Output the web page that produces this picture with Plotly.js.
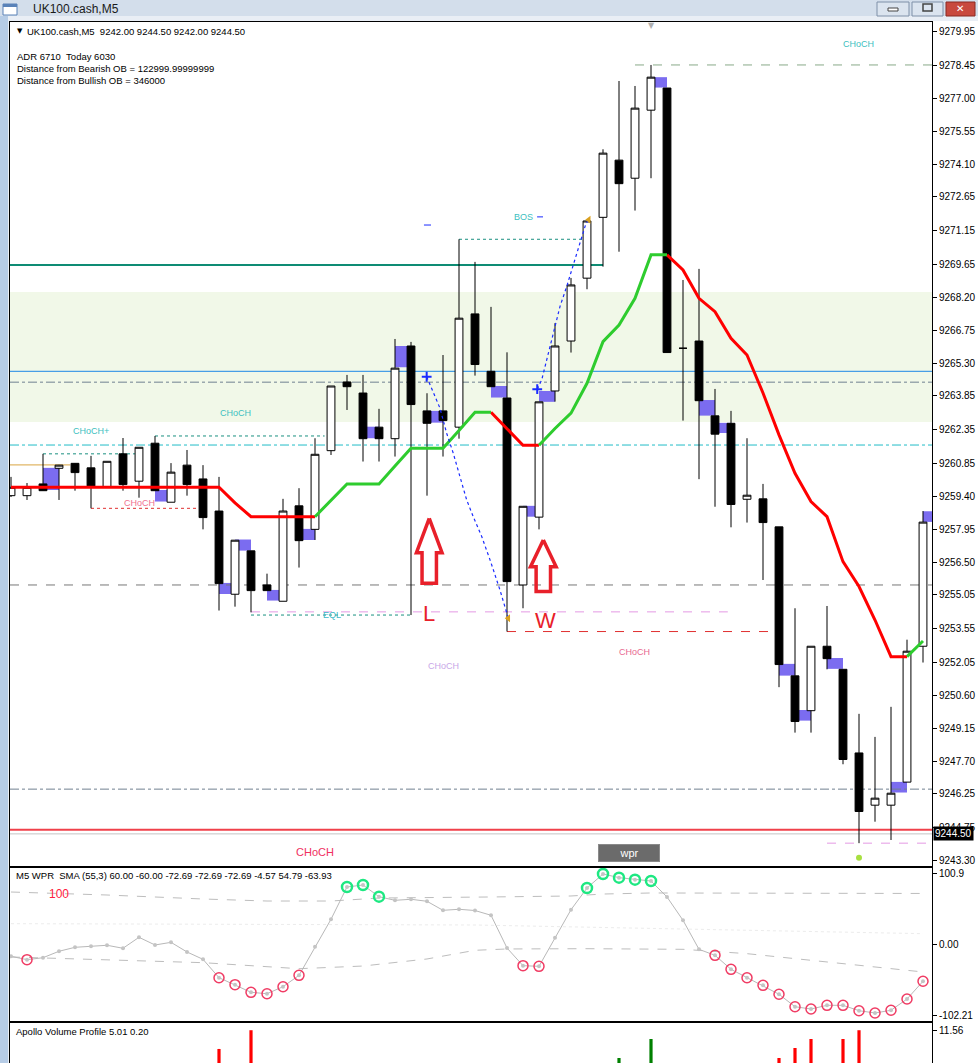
<!DOCTYPE html>
<html><head><meta charset="utf-8">
<script src="https://cdn.plot.ly/plotly-3.0.1.min.js"></script>
<style>html,body{margin:0;padding:0;background:#fff}#chart{width:978px;height:1063px}</style>
</head><body><div id="chart"></div>
<script>
// ---------------- DATA ----------------
const open  = [9259.44,9259.44,9259.96,9260.65,9260.87,9260.67,9259.81,9261.29,9260.08,9261.76,
               9259.15,9260.79,9260.18,9258.76,9255.08,9257.00,9255.49,9254.77,9258.99,9257.95,
               9261.43,9264.47,9263.98,9262.47,9261.96,9266.06,9263.19,9263.19,9262.47,9267.48,
               9264.94,9263.76,9255.49,9258.49,9264.07,9266.28,9269.06,9271.75,9274.28,9273.48,
               9276.49,9277.47,9265.96,9266.28,9262.97,9262.64,9259.28,9259.30,9258.06,9251.47,
               9249.93,9252.78,9251.76,9248.06,9245.75,9245.75,9246.77,9252.78];
const high  = [9260.27,9260.00,9261.29,9260.80,9260.88,9261.20,9260.96,9261.99,9261.58,9262.08,
               9260.88,9261.46,9260.79,9260.27,9257.47,9257.00,9255.99,9259.30,9259.77,9261.98,
               9264.29,9264.78,9264.78,9263.28,9266.37,9266.24,9263.97,9265.66,9270.78,9269.78,
               9267.79,9265.78,9258.97,9263.59,9267.07,9269.07,9271.59,9274.76,9277.78,9277.56,
               9278.49,9277.47,9268.98,9269.47,9264.16,9263.19,9261.98,9259.96,9258.06,9254.46,
               9252.78,9254.56,9251.76,9249.79,9248.77,9250.10,9253.07,9258.76];
const low   = [9259.38,9259.25,9259.65,9259.25,9259.66,9258.88,9259.81,9259.66,9259.35,9259.66,
               9259.15,9259.44,9257.95,9254.36,9254.53,9254.28,9255.24,9254.77,9256.26,9257.48,
               9261.24,9263.23,9260.95,9260.95,9261.17,9254.16,9259.44,9261.17,9261.96,9264.75,
               9264.26,9253.43,9254.46,9257.95,9263.60,9265.77,9268.57,9269.57,9270.23,9272.05,
               9273.48,9265.77,9262.76,9260.17,9258.95,9258.04,9258.25,9255.71,9250.97,9248.96,
               9248.96,9251.76,9247.56,9244.07,9245.02,9244.21,9246.77,9252.06];
const close = [9259.81,9259.81,9259.66,9260.79,9260.46,9259.87,9260.96,9259.93,9261.58,9259.66,
               9260.48,9259.93,9258.47,9255.55,9257.47,9255.24,9255.24,9258.76,9257.45,9261.27,
               9264.29,9264.26,9261.96,9261.96,9265.08,9263.47,9262.64,9262.76,9267.29,9265.24,
               9264.26,9255.64,9258.97,9263.59,9266.06,9268.76,9271.59,9274.59,9273.24,9276.58,
               9277.95,9265.77,9265.96,9263.64,9262.16,9259.05,9259.46,9258.25,9251.97,9249.45,
               9252.78,9252.23,9247.77,9245.47,9246.06,9246.28,9252.56,9258.27];

// trend (step MA) line and its colour runs
const trend = [9259.81,9259.81,9259.81,9259.81,9259.81,9259.81,9259.81,9259.81,9259.81,9259.81,
               9259.81,9259.81,9259.81,9259.81,9259.12,9258.51,9258.51,9258.51,9258.51,9258.51,
               9259.25,9259.96,9259.96,9259.96,9260.75,9261.54,9261.54,9261.54,9262.32,9263.13,
               9263.13,9262.40,9261.67,9261.67,9262.41,9263.09,9264.41,9266.25,9266.99,9268.17,
               9270.09,9270.09,9269.42,9268.17,9267.58,9266.40,9265.66,9263.98,9262.13,9260.43,
               9259.18,9258.51,9256.52,9255.42,9253.94,9252.32,9252.32,9253.01];
const trendUp = [[19,30],[33,41],[56,57]];
const trendDown = [[0,19],[30,33],[41,56]];

// WPR sub-window
const wpr = [-16.9,-21.7,-18.9,-9.7,-4.0,-2.6,-1.1,-5.4,10.3,-0.7,
             3.1,-10.7,-21.2,-47.5,-57.5,-68.4,-70.4,-60.4,-44.1,-3.1,
             36.1,82.3,85.1,68.4,63.2,64.7,61.8,48.9,50.4,48.6,
             41.8,-5.0,-30.3,-31.2,9.7,49.8,80.8,100.9,95.6,92.7,
             90.8,68.0,34.6,-6.9,-15.5,-35.5,-47.5,-58.4,-71.2,-89.0,
             -92.3,-87.0,-87.0,-94.7,-98.0,-94.1,-78.0,-52.6];
const wprSignal = [0,-1,0,0,0,0,0,0,0,0,
                   0,0,0,-1,-1,-1,-1,-1,-1,0,
                   0,1,1,1,0,0,0,0,0,0,
                   0,0,-1,-1,0,0,1,1,1,1,
                   1,0,0,0,-1,-1,-1,-1,-1,-1,
                   -1,-1,-1,-1,-1,-1,-1,-1];
const wprUpperX = [0,6,12,16,20,23,30,35,37,40,57];
const wprUpper  = [75.1,70.8,65.1,62.2,62.2,66.5,68.0,69.4,72.2,73.7,73.0];
const wprLowerX = [0,12,18,22,26,29,31,36,42,46,50,54,57];
const wprLower  = [-17.9,-26.0,-34.6,-30.8,-20.7,-8.3,-6.4,-6.0,-6.9,-13.1,-22.6,-32.2,-39.3];
const wprMidX = [0,29,57];
const wprMid  = [29.8,27.9,15.5];

// volume profile sub-window
const volIdx = [13,15,38,40,48,49,50,52,53];
const volVal = [9.64,11.56,8.71,10.66,8.71,9.74,10.66,10.66,11.56];
const volUp  = [false,false,true,true,false,false,false,false,false];

// order-block boxes (start bar, top, bottom)
const obStart  = [2,9,13,14,16,18,22,24,26,30,32,33,40,43,44,48,49,51,55,57];
const obTop    = [9260.67,9259.69,9255.58,9257.50,9255.27,9257.97,9262.49,9266.06,9263.19,9264.29,
                  9258.99,9264.07,9277.95,9263.67,9262.66,9252.00,9249.96,9252.26,9246.78,9258.75];
const obBottom = [9259.69,9259.18,9255.09,9257.01,9254.80,9257.48,9261.98,9265.12,9262.67,9263.78,
                  9258.51,9263.59,9277.49,9262.98,9262.21,9251.48,9249.49,9251.78,9246.31,9258.28];

// supply/demand zone
const zoneTop = 9268.45, zoneBottom = 9262.70;

// horizontal levels
const levelPrice = [9269.64,9264.94,9264.46,9261.68,9262.08,9261.29,9260.80,9258.88,9255.49,9254.30,
                    9254.16,9253.43,9246.46,9244.66,9244.48,9244.07,9278.49,9270.78];
const levelFrom  = [null,null,null,null,9,2,null,5,null,15,15,31,null,null,null,51,39,28];
const levelTo    = [37,null,null,null,19.6,8.1,3.7,11.6,null,44.8,25,47.8,null,null,null,null,null,36];

// zig-zag swing projections
const swing1X = [25.98,26.39,26.81,27.23,27.64,28.06,28.48,28.89,29.42,29.94,30.56,31.08];
const swing1Y = [9264.70,9263.97,9263.31,9262.20,9261.32,9260.28,9259.25,9258.51,9257.63,9256.60,9255.27,9254.02];
const swing2X = [32.89,33.17,33.48,33.89,34.31,34.73,35.04,35.36,35.67,35.94,36.11];
const swing2Y = [9264.15,9264.56,9265.44,9266.62,9267.80,9268.69,9269.42,9270.16,9270.90,9271.49,9271.64];
const bosDashX = [[25.81,26.25],[32.88,33.25]];
const bosDashY = [9271.41,9271.77];

// hand-drawn arrows (centre bar, tip, neck, base)
const arrowX = [26.14,33.27];
const arrowTip = [9258.44,9257.48];
const arrowNeck = [9256.92,9256.30];
const arrowBase = [9255.57,9255.20];

// text labels on the price chart
const labelText = ['CHoCH','BOS','CHoCH','CHoCH+','CHoCH','EQL','L','W','CHoCH','CHoCH','CHoCH'];
const labelX    = [52.94,32.0,14.0,5.0,8.0,20.06,26.1,33.4,27.0,38.94,19.0];
const labelY    = [9279.42,9271.77,9263.10,9262.30,9259.12,9254.16,9254.21,9253.94,9251.91,9252.53,9243.68];

const priceTicks = [9279.95,9278.45,9277.00,9275.55,9274.10,9272.65,9271.15,9269.65,9268.20,9266.75,
                    9265.30,9263.85,9262.35,9260.85,9259.40,9257.95,9256.50,9255.05,9253.55,9252.05,
                    9250.60,9249.15,9247.70,9246.25,9244.75,9243.30];
const bidPrice = 9244.50;
const wprTicks = [100.9,0,-102.21];
const wprTickText = ['100.9','0.00','-102.21'];
const volTicks = [11.56];

// ---------------- STYLE / BUILD ----------------
const FONT = 'Liberation Sans, Arial, sans-serif';
const XR = [-0.0625, 57.5625];
const bars = open.map((_, i) => i);
const PX = x => (x - 10) / 922;
const PY = y => (1063 - y) / 1041;

const traces = [];
traces.push({
  type: 'candlestick', x: bars, open, high, low, close, xaxis: 'x', yaxis: 'y',
  increasing: {fillcolor: '#ffffff', line: {color: '#000000', width: 1}},
  decreasing: {fillcolor: '#000000', line: {color: '#000000', width: 1}},
  whiskerwidth: 0, hoverinfo: 'skip'
});
function segTrace(ranges, color) {
  const xs = [], ys = [];
  ranges.forEach(([a, b]) => { for (let i = a; i <= b; i++) { xs.push(i); ys.push(trend[i]); } xs.push(null); ys.push(null); });
  return {type: 'scatter', mode: 'lines', x: xs, y: ys, xaxis: 'x', yaxis: 'y',
          line: {color, width: 3}, hoverinfo: 'skip', connectgaps: false};
}
traces.push(segTrace(trendDown, '#ff0000'));
traces.push(segTrace(trendUp, '#2ecc2e'));

traces.push({type: 'scatter', mode: 'lines', x: swing1X, y: swing1Y, line: {color: '#1a2bff', width: 1.2, dash: 'dot'}, hoverinfo: 'skip'});
traces.push({type: 'scatter', mode: 'lines', x: swing2X, y: swing2Y, line: {color: '#1a2bff', width: 1.2, dash: 'dot'}, hoverinfo: 'skip'});
traces.push({type: 'scatter', mode: 'markers', x: [swing1X[0], swing2X[0]], y: [swing1Y[0], swing2Y[0]],
  marker: {symbol: 'cross-thin', size: 7, color: '#1a2bff', line: {color: '#1a2bff', width: 2}}, hoverinfo: 'skip'});
traces.push({type: 'scatter', mode: 'markers', x: [swing1X[swing1X.length-1], swing2X[swing2X.length-1]],
  y: [swing1Y[swing1Y.length-1], swing2Y[swing2Y.length-1]],
  marker: {symbol: 'triangle-left', size: 7, color: '#d9a020'}, hoverinfo: 'skip'});
{
  const xs = [], ys = [];
  bosDashX.forEach((r, i) => { xs.push(r[0], r[1], null); ys.push(bosDashY[i], bosDashY[i], null); });
  traces.push({type: 'scatter', mode: 'lines', x: xs, y: ys, line: {color: '#1a2bff', width: 1}, hoverinfo: 'skip'});
}
// arrows
{
  const hw = 0.8, sw = 0.45;
  const xs = [], ys = [];
  arrowX.forEach((c, i) => {
    const t = arrowTip[i], n = arrowNeck[i], b = arrowBase[i];
    xs.push(c, c + hw, c + sw, c + sw, c - sw, c - sw, c - hw, c, null);
    ys.push(t, n, n, b, b, n, n, t, null);
  });
  traces.push({type: 'scatter', mode: 'lines', x: xs, y: ys, line: {color: '#e8202a', width: 3.5}, hoverinfo: 'skip'});
}
// green dot under bar 53
traces.push({type: 'scatter', mode: 'markers', x: [53], y: [9243.42], marker: {size: 6, color: '#a8e040'}, hoverinfo: 'skip'});

// WPR panel
traces.push({type: 'scatter', mode: 'lines', x: wprMidX, y: wprMid, xaxis: 'x2', yaxis: 'y2', line: {color: '#ececec', width: 1, dash: 'dot'}, hoverinfo: 'skip'});
traces.push({type: 'scatter', mode: 'lines', x: wprUpperX, y: wprUpper, xaxis: 'x2', yaxis: 'y2', line: {color: '#bdbdbd', width: 1, dash: 'dash'}, hoverinfo: 'skip'});
traces.push({type: 'scatter', mode: 'lines', x: wprLowerX, y: wprLower, xaxis: 'x2', yaxis: 'y2', line: {color: '#bdbdbd', width: 1, dash: 'dash'}, hoverinfo: 'skip'});
traces.push({type: 'scatter', mode: 'lines+markers', x: bars, y: wpr, xaxis: 'x2', yaxis: 'y2',
  line: {color: '#b8b8b8', width: 1}, marker: {size: 4, color: '#c4c4c4'}, hoverinfo: 'skip'});
traces.push({type: 'scatter', mode: 'markers', xaxis: 'x2', yaxis: 'y2',
  x: bars.filter(i => wprSignal[i] < 0), y: bars.filter(i => wprSignal[i] < 0).map(i => wpr[i]),
  marker: {symbol: 'circle-open', size: 10, color: '#f03c64', line: {color: '#f03c64', width: 1.5}}, hoverinfo: 'skip'});
traces.push({type: 'scatter', mode: 'markers', xaxis: 'x2', yaxis: 'y2',
  x: bars.filter(i => wprSignal[i] > 0), y: bars.filter(i => wprSignal[i] > 0).map(i => wpr[i]),
  marker: {symbol: 'circle-open', size: 10, color: '#1ee882', line: {color: '#1ee882', width: 2.5}}, hoverinfo: 'skip'});

// Volume panel
traces.push({type: 'bar', x: volIdx, y: volVal, base: 0, width: 0.2, xaxis: 'x3', yaxis: 'y3',
  marker: {color: volUp.map(u => u ? '#008000' : '#ff0000'), line: {width: 0}}, hoverinfo: 'skip'});

// ---------------- SHAPES ----------------
const shapes = [];
// window chrome
shapes.push({type: 'rect', xref: 'paper', yref: 'paper', x0: PX(0), x1: PX(978), y0: PY(19), y1: PY(0), fillcolor: '#d3deeb', line: {width: 0}, layer: 'below'});
shapes.push({type: 'rect', xref: 'paper', yref: 'paper', x0: PX(0), x1: PX(978), y0: PY(21), y1: PY(16), fillcolor: '#e9eef5', line: {width: 0}, layer: 'below'});
shapes.push({type: 'rect', xref: 'paper', yref: 'paper', x0: PX(0), x1: PX(8), y0: PY(1063), y1: PY(16), fillcolor: '#b6cce6', line: {width: 0}, layer: 'below'});
shapes.push({type: 'rect', xref: 'paper', yref: 'paper', x0: PX(8), x1: PX(10), y0: PY(1063), y1: PY(16), fillcolor: '#e9eef5', line: {width: 0}, layer: 'below'});
shapes.push({type: 'rect', xref: 'paper', yref: 'paper', x0: PX(3), x1: PX(17), y0: PY(15), y1: PY(4), fillcolor: '#ffffff', line: {color: '#5a82b8', width: 1}});
shapes.push({type: 'rect', xref: 'paper', yref: 'paper', x0: PX(3), x1: PX(17), y0: PY(7), y1: PY(4), fillcolor: '#5a82b8', line: {width: 0}});
// title buttons
shapes.push({type: 'rect', xref: 'paper', yref: 'paper', x0: PX(877), x1: PX(909), y0: PY(16), y1: PY(2), fillcolor: '#dbe4ef', line: {color: '#7f90a8', width: 1}});
shapes.push({type: 'rect', xref: 'paper', yref: 'paper', x0: PX(888), x1: PX(898), y0: PY(11), y1: PY(8), fillcolor: '#ffffff', line: {color: '#444', width: 1}});
shapes.push({type: 'rect', xref: 'paper', yref: 'paper', x0: PX(912), x1: PX(943), y0: PY(16), y1: PY(2), fillcolor: '#dbe4ef', line: {color: '#7f90a8', width: 1}});
shapes.push({type: 'rect', xref: 'paper', yref: 'paper', x0: PX(923), x1: PX(932), y0: PY(11), y1: PY(4), fillcolor: 'rgba(0,0,0,0)', line: {color: '#444', width: 1.5}});
shapes.push({type: 'rect', xref: 'paper', yref: 'paper', x0: PX(946), x1: PX(975), y0: PY(16), y1: PY(2), fillcolor: '#c8493e', line: {color: '#8a2a22', width: 1}});
// zone
shapes.push({type: 'rect', xref: 'x', yref: 'y', x0: XR[0], x1: XR[1], y0: zoneBottom, y1: zoneTop, fillcolor: '#f1f8e8', line: {width: 0}, layer: 'below'});
// order blocks
obStart.forEach((k, i) => shapes.push({type: 'rect', xref: 'x', yref: 'y', x0: k, x1: Math.min(k + 1, XR[1]),
  y0: obBottom[i], y1: obTop[i], fillcolor: '#7b6cf0', line: {width: 0}, layer: 'below'}));
// levels
const levelColor = ['#0e8c74','#1e88e5','#708090','#22bcc8','#1a9080','#1a9080','#d9a441','#e03030','#777777','#e49ae4',
                    '#1a9080','#e03030','#708090','#f0404a','#c4c4c4','#e49ae4','#88aa88','#1a9080'];
const levelDash  = ['solid','solid','dashdot','dashdot','dot','dot','solid','dot','dash','dash',
                    'dot','dash','dashdot','solid','solid','dash','dash','dot'];
const levelWidth = [2,1,1,1,1,1,1,1,1,1,1,1,1,2,1,1,1,1];
levelPrice.forEach((p, i) => shapes.push({type: 'line', xref: 'x', yref: 'y',
  x0: levelFrom[i] === null ? XR[0] : levelFrom[i], x1: levelTo[i] === null ? XR[1] : levelTo[i],
  y0: p, y1: p, line: {color: levelColor[i], width: levelWidth[i], dash: levelDash[i]}, layer: 'below'}));

// ---------------- ANNOTATIONS ----------------
const ann = [];
const labelColor = ['#3cc0c0','#3cc0c0','#3cc0c0','#3cc0c0','#f07090','#40b8c8','#e8202a','#e8202a','#c8a8e8','#e86890','#f03060'];
const labelSize  = [9,9,9,9,9,9,22,22,9,9,11];
labelText.forEach((t, i) => ann.push({xref: 'x', yref: 'y', x: labelX[i], y: labelY[i], text: t, showarrow: false,
  xanchor: 'center', yanchor: 'middle', font: {family: FONT, size: labelSize[i], color: labelColor[i]}}));
const txt = (x, y, t, size, color, extra) => Object.assign({xref: 'paper', yref: 'paper', x: PX(x), y: PY(y), text: t,
  showarrow: false, xanchor: 'left', yanchor: 'middle', font: {family: FONT, size, color}}, extra || {});
ann.push(txt(31, 9, 'UK100.cash,M5', 12, '#1a1a1a'));
ann.push(txt(954, 8.5, '✕', 11, '#ffffff', {font: {family: 'DejaVu Sans', size: 10, color: '#ffffff'}}));
ann.push(txt(15, 31, '▼', 6, '#000', {font: {family: 'DejaVu Sans', size: 7, color: '#000'}}));
ann.push(txt(25, 31, 'UK100.cash,M5\u00a0\u00a09242.00 9244.50 9242.00 9244.50', 9.5, '#000'));
ann.push(txt(15, 56, 'ADR 6710\u00a0\u00a0Today 6030', 9.5, '#000'));
ann.push(txt(15, 68, 'Distance from Bearish OB = 122999.99999999', 9.5, '#000'));
ann.push(txt(15, 80, 'Distance from Bullish OB = 346000', 9.5, '#000'));
ann.push(txt(14, 875, 'M5 WPR\u00a0\u00a0SMA (55,3) 60.00 -60.00 -72.69 -72.69 -72.69 -4.57 54.79 -63.93', 9.5, '#000'));
ann.push(txt(14, 1031, 'Apollo Volume Profile 5.01 0.20', 9.5, '#000'));
ann.push(txt(47, 894, '100', 12, '#ff2040'));
ann.push(txt(646, 26, '▼', 7, '#b0b0b0', {font: {family: 'DejaVu Sans', size: 8, color: '#b0b0b0'}}));
// wpr button
ann.push({xref: 'paper', yref: 'paper', x: PX(628.5), y: PY(853), text: 'wpr', showarrow: false, xanchor: 'center', yanchor: 'middle',
  width: 58, height: 14, bgcolor: '#6b6b6b', bordercolor: '#8a8a8a', borderwidth: 1, borderpad: 1,
  font: {family: FONT, size: 11, color: '#ffffff'}});
// bid price label
ann.push({xref: 'paper', yref: 'y', x: 1, y: bidPrice, text: bidPrice.toFixed(2), showarrow: false, xanchor: 'left', yanchor: 'middle',
  bgcolor: '#000000', borderpad: 1, xshift: 1, font: {family: FONT, size: 10, color: '#ffffff'}});

const axX = (anchor) => ({anchor, range: XR, showticklabels: false, showgrid: false, zeroline: false, ticks: '',
  showline: true, mirror: true, linecolor: '#000', linewidth: 1, rangeslider: {visible: false}, fixedrange: true});
const axY = (domain, range, tv, tt) => ({domain, range, side: 'right', tickvals: tv, ticktext: tt, ticks: 'outside',
  ticklen: 4, tickcolor: '#000', tickfont: {family: FONT, size: 10, color: '#000'}, showgrid: false, zeroline: false,
  showline: true, mirror: true, linecolor: '#000', linewidth: 1, fixedrange: true});

const layout = {
  width: 978, height: 1063, margin: {l: 10, r: 46, t: 22, b: 0, pad: 0},
  paper_bgcolor: '#ffffff', plot_bgcolor: '#ffffff', showlegend: false, hovermode: false,
  xaxis: axX('y'), xaxis2: axX('y2'), xaxis3: axX('y3'),
  yaxis: Object.assign(axY([PY(866), 1], [9243.06, 9280.39], priceTicks, priceTicks.map(v => v.toFixed(2))), {anchor: 'x'}),
  yaxis2: Object.assign(axY([PY(1021), PY(868)], [-109.44, 109.44], wprTicks, wprTickText), {anchor: 'x2'}),
  yaxis3: Object.assign(axY([0, PY(1023)], [8.2, 12.3], volTicks, volTicks.map(v => v.toFixed(2))), {anchor: 'x3'}),
  shapes, annotations: ann
};
Plotly.newPlot('chart', traces, layout, {displayModeBar: false, staticPlot: true});
</script></body></html>
